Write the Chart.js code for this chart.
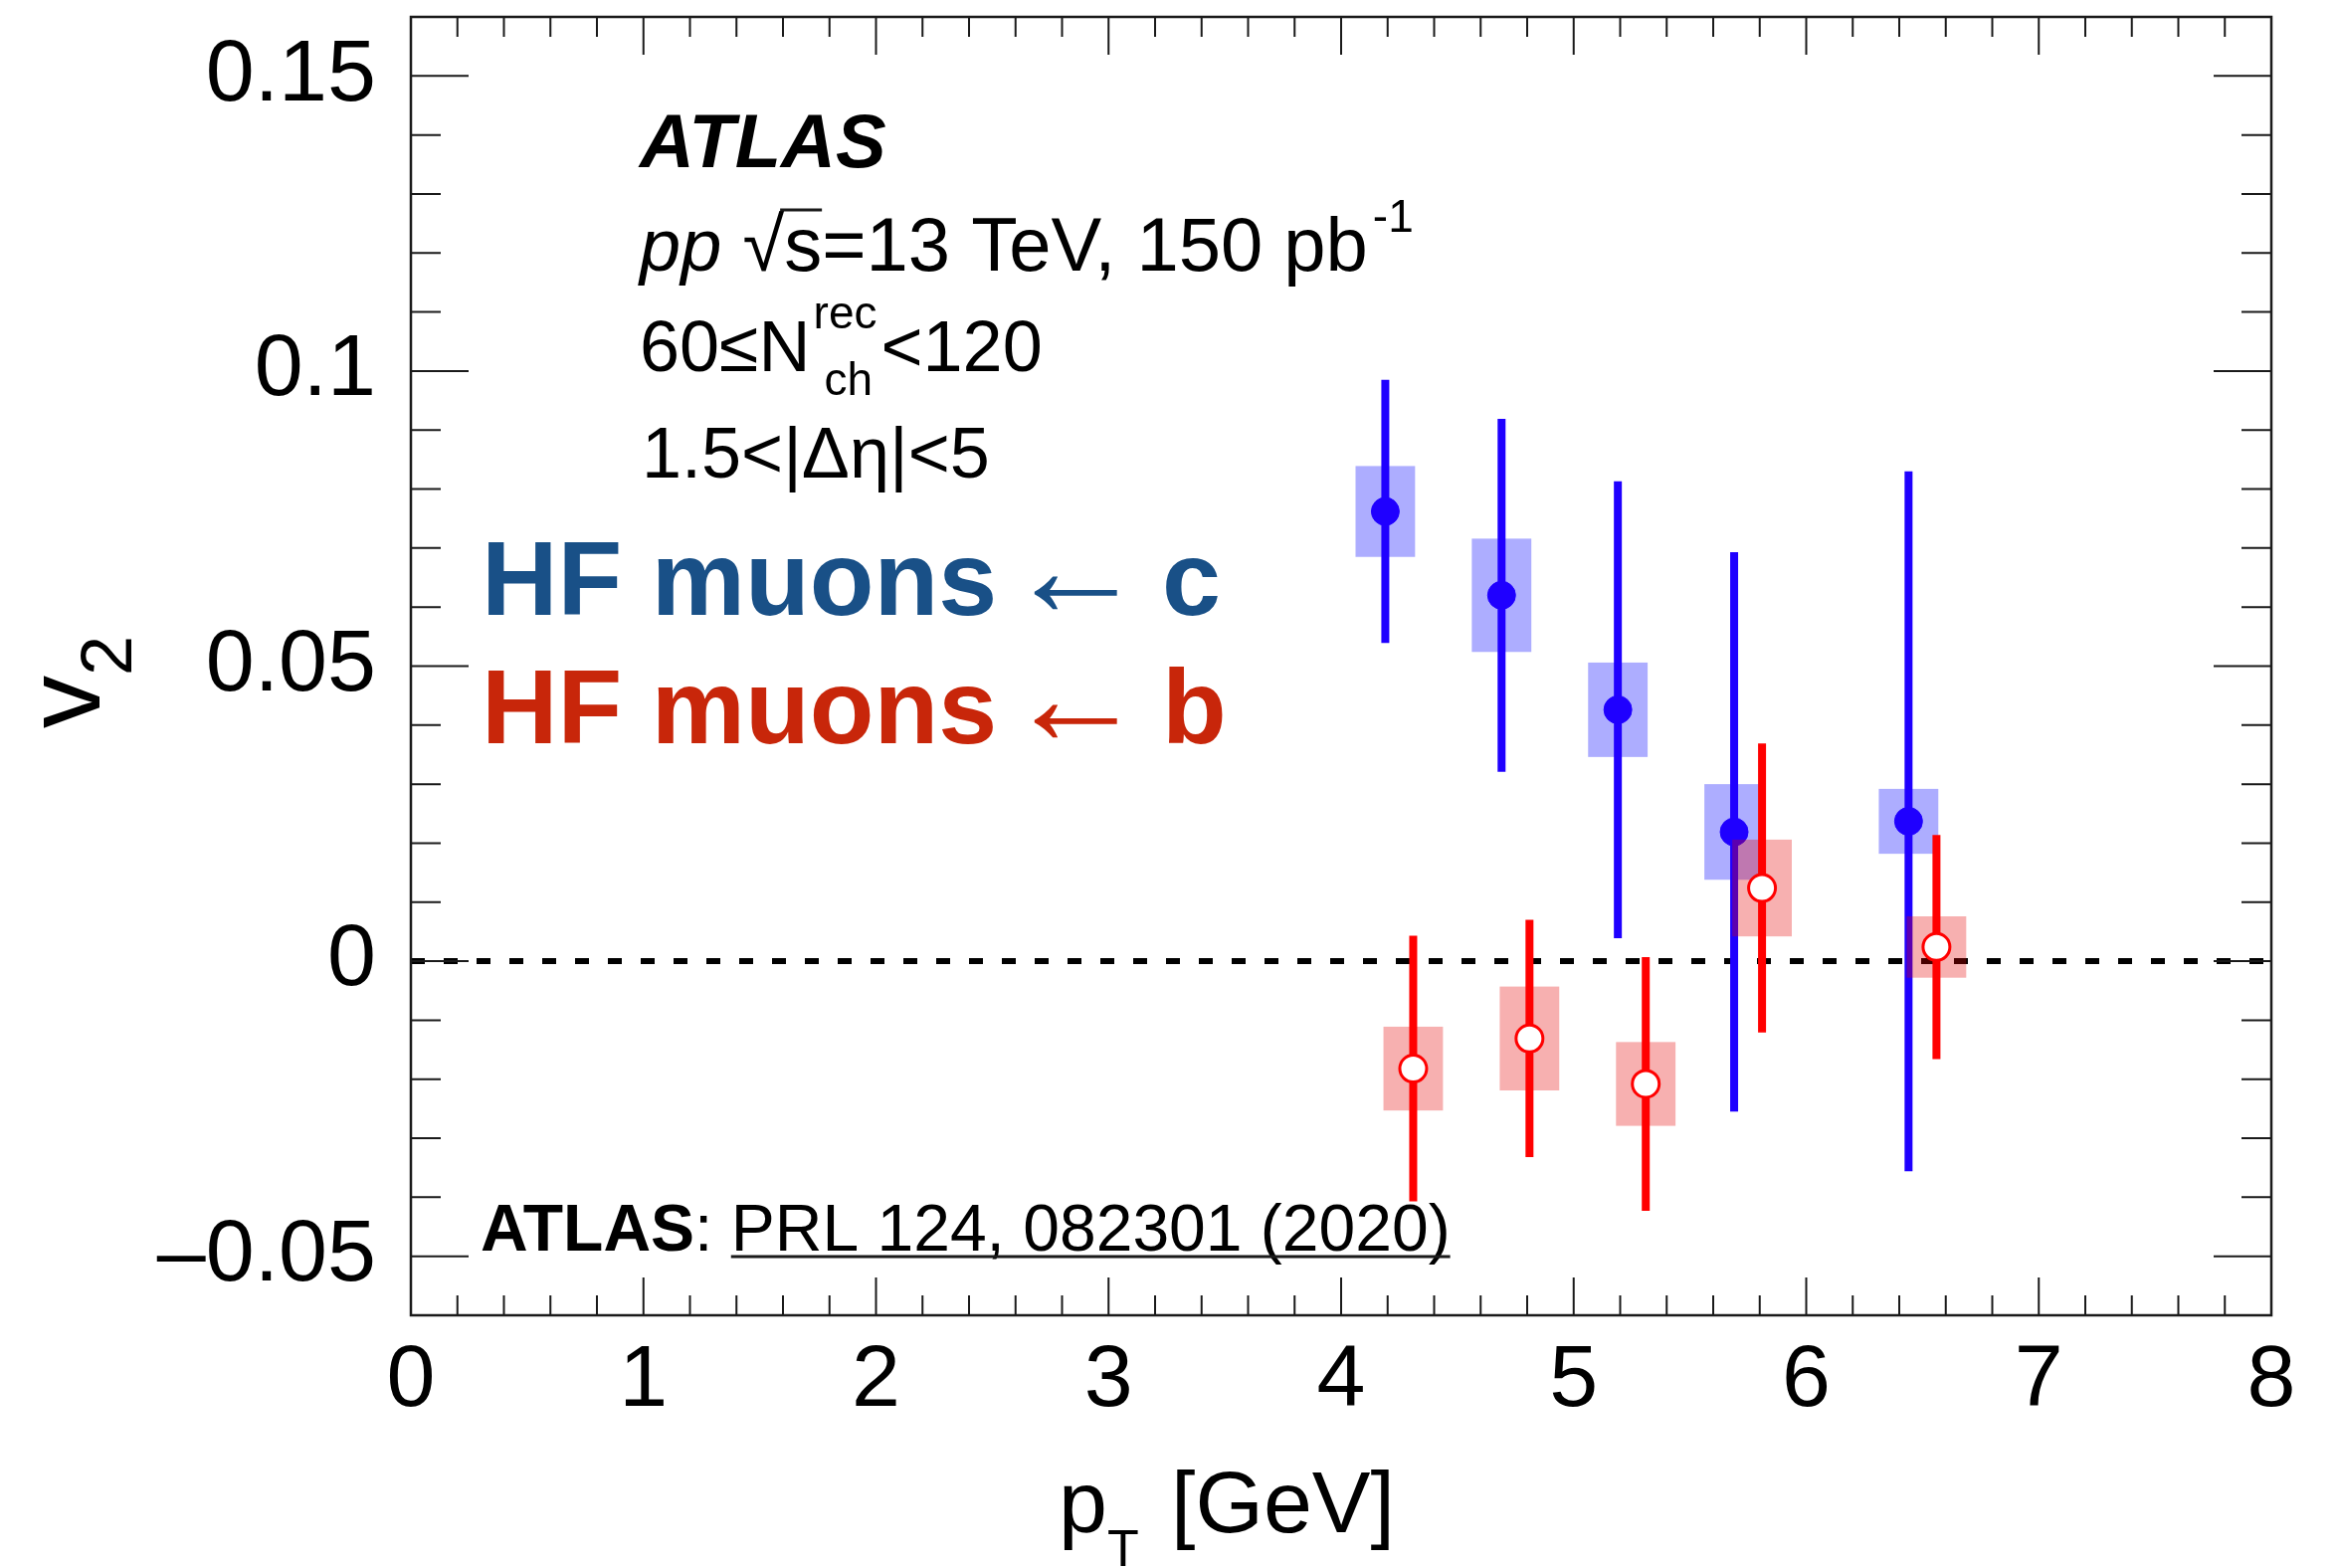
<!DOCTYPE html>
<html>
<head>
<meta charset="utf-8">
<title>HF muon v2</title>
<script src="https://cdn.jsdelivr.net/npm/chart.js@4.4.0/dist/chart.umd.min.js"></script>
<style>
  html, body { margin: 0; padding: 0; background: #fff; }
  #wrap { width: 2350px; height: 1576px; }
</style>
</head>
<body>
<div id="wrap"><canvas id="v2Chart" width="2350" height="1576"></canvas></div>
<script>
// muons from charm (c) and bottom (b) decays
const ptC   = [4.19, 4.69, 5.19, 5.69, 6.44];
const v2C   = [0.0762, 0.0620, 0.0426, 0.0219, 0.0237];
const statC = [0.0223, 0.0299, 0.0387, 0.0474, 0.0593];
const sysC  = [0.0077, 0.0096, 0.0080, 0.0081, 0.0055];

const ptB   = [4.31, 4.81, 5.31, 5.81, 6.56];
const v2B   = [-0.0182, -0.0131, -0.0208, 0.0124, 0.0024];
const statB = [0.0225, 0.0201, 0.0215, 0.0245, 0.0190];
const sysB  = [0.0071, 0.0088, 0.0071, 0.0082, 0.0052];

// half width of the systematic boxes, GeV
const sysHalfWidth = 0.128;

const xTicks = [0, 1, 2, 3, 4, 5, 6, 7, 8];
const yTicks = [-0.05, 0, 0.05, 0.1, 0.15];
const yTickLabels = ['\u20130.05', '0', '0.05', '0.1', '0.15'];

const FONT = "'Liberation Sans', Arial, Helvetica, sans-serif";

function toPoints(xs, ys) {
  return xs.map((x, i) => ({ x: x, y: ys[i] }));
}

// boxes (sys) and bars (stat) go under each series' markers
const errorPlugin = {
  id: 'errorBoxes',
  beforeDatasetsDraw(chart) {
    const { ctx, scales: { x, y } } = chart;
    ctx.save();
    ctx.strokeStyle = '#000';
    ctx.lineWidth = 6;
    ctx.setLineDash([14, 19]);
    ctx.beginPath();
    ctx.moveTo(x.getPixelForValue(0), y.getPixelForValue(0));
    ctx.lineTo(x.getPixelForValue(8), y.getPixelForValue(0));
    ctx.stroke();
    ctx.restore();
  },
  beforeDatasetDraw(chart, args) {
    const ds = chart.data.datasets[args.index];
    const { ctx, chartArea: a, scales: { x, y } } = chart;
    ctx.save();
    ctx.beginPath();
    ctx.rect(a.left, a.top, a.right - a.left, a.bottom - a.top);
    ctx.clip();
    ds.data.forEach((p, i) => {
      const x0 = x.getPixelForValue(p.x - sysHalfWidth);
      const x1 = x.getPixelForValue(p.x + sysHalfWidth);
      const yt = y.getPixelForValue(p.y + ds.sysErr[i]);
      const yb = y.getPixelForValue(p.y - ds.sysErr[i]);
      ctx.fillStyle = ds.boxColor;
      ctx.fillRect(x0, yt, x1 - x0, yb - yt);
    });
    ds.data.forEach((p, i) => {
      const px = x.getPixelForValue(p.x);
      ctx.strokeStyle = ds.barColor;
      ctx.lineWidth = 8;
      ctx.beginPath();
      ctx.moveTo(px, y.getPixelForValue(p.y + ds.statErr[i]));
      ctx.lineTo(px, y.getPixelForValue(p.y - ds.statErr[i]));
      ctx.stroke();
    });
    ctx.restore();
  }
};

// draws a row of text pieces, each with its own font and vertical shift
function drawRuns(ctx, x, y, runs) {
  runs.forEach(r => {
    ctx.font = r.font;
    if (r.x !== undefined) x = r.x;
    ctx.fillText(r.t, x, y + (r.dy || 0));
    x += ctx.measureText(r.t).width + (r.gap || 0);
  });
  return x;
}

// ROOT style frame, inward ticks on all sides, axis titles and labels
const framePlugin = {
  id: 'rootFrame',
  afterDraw(chart) {
    const { ctx, chartArea: a, scales: { x, y } } = chart;
    ctx.save();
    ctx.strokeStyle = '#1a1a1a';
    ctx.lineWidth = 2;
    ctx.beginPath();
    for (let i = 0; i <= 40; i++) {
      const px = x.getPixelForValue(i / 5);
      const len = i % 5 === 0 ? 38 : 20;
      ctx.moveTo(px, a.bottom); ctx.lineTo(px, a.bottom - len);
      ctx.moveTo(px, a.top); ctx.lineTo(px, a.top + len);
    }
    for (let i = -6; i <= 16; i++) {
      const py = y.getPixelForValue(i / 100);
      const len = i % 5 === 0 ? 58 : 30;
      ctx.moveTo(a.left, py); ctx.lineTo(a.left + len, py);
      ctx.moveTo(a.right, py); ctx.lineTo(a.right - len, py);
    }
    ctx.stroke();
    ctx.lineWidth = 2.5;
    ctx.strokeRect(a.left, a.top, a.right - a.left, a.bottom - a.top);

    ctx.fillStyle = '#000';
    ctx.textAlign = 'left';
    ctx.textBaseline = 'alphabetic';

    // x axis title
    drawRuns(ctx, 1064, 1540, [
      { t: 'p', font: '88px ' + FONT },
      { t: 'T', font: '52px ' + FONT, dy: 34 },
      { t: '[GeV]', font: '88px ' + FONT, x: 1177 }
    ]);

    // y axis title, rotated
    ctx.save();
    ctx.translate(100, 732);
    ctx.rotate(-Math.PI / 2);
    ctx.font = '106px ' + FONT;
    ctx.fillText('v', 0, 0);
    const vw = ctx.measureText('v').width;
    ctx.font = '72px ' + FONT;
    ctx.fillText('2', vw, 32);
    ctx.restore();

    // experiment label
    ctx.font = 'italic bold 76px ' + FONT;
    ctx.fillText('ATLAS', 643, 168);

    const f = '76px ' + FONT;
    const fs = '46px ' + FONT;
    let cx = drawRuns(ctx, 643, 272, [
      { t: 'pp', font: 'italic 74px ' + FONT },
      { t: ' \u221A', font: f }
    ]);
    ctx.font = f;
    const sw = ctx.measureText('s').width;
    ctx.fillText('s', cx, 272);
    ctx.lineWidth = 3;
    ctx.beginPath();
    ctx.moveTo(cx - 4, 211);
    ctx.lineTo(cx + sw, 211);
    ctx.stroke();
    cx = drawRuns(ctx, cx + sw, 272, [
      { t: '=13 TeV, 150 pb', font: f, gap: 5 },
      { t: '-1', font: fs, dy: -39 }
    ]);

    ctx.font = '72px ' + FONT;
    ctx.fillText('60\u2264N', 643, 373);
    const nEnd = 643 + ctx.measureText('60\u2264N').width;
    ctx.font = '46px ' + FONT;
    ctx.fillText('rec', nEnd + 3, 330);
    ctx.fillText('ch', nEnd + 14, 397);
    const recEnd = nEnd + 3 + ctx.measureText('rec').width;
    ctx.font = '72px ' + FONT;
    ctx.fillText('<120', recEnd + 4, 373);

    ctx.fillText('1.5<|\u0394\u03B7|<5', 645, 480);

    // series labels
    const big = 'bold 106px ' + FONT;
    [['c', '#195087', 618, 580], ['b', '#c8260a', 747, 709]].forEach(([q, col, base, mid]) => {
      ctx.fillStyle = col;
      ctx.font = big;
      ctx.textAlign = 'left';
      ctx.textBaseline = 'alphabetic';
      ctx.fillText('HF muons', 484, base);
      ctx.fillText(q, 1168, base);
      ctx.textAlign = 'center';
      ctx.textBaseline = 'middle';
      ctx.font = 'bold 140px ' + FONT;
      ctx.fillText('\u2190', 1081, mid);
    });

    // reference line
    ctx.fillStyle = '#000';
    ctx.textAlign = 'left';
    ctx.textBaseline = 'alphabetic';
    ctx.font = 'bold 66px ' + FONT;
    ctx.fillText('ATLAS', 483, 1257);
    let rx = 483 + ctx.measureText('ATLAS').width;
    ctx.font = '66px ' + FONT;
    ctx.fillText(':', rx, 1257);
    rx += ctx.measureText(': ').width;
    const ref = 'PRL 124, 082301 (2020)';
    ctx.fillText(ref, rx, 1257);
    ctx.lineWidth = 3;
    ctx.beginPath();
    ctx.moveTo(rx, 1263);
    ctx.lineTo(rx + ctx.measureText(ref).width, 1263);
    ctx.stroke();

    ctx.restore();
  }
};

const tickFont = { family: FONT, size: 88 };

new Chart(document.getElementById('v2Chart'), {
  type: 'scatter',
  data: {
    datasets: [{
      label: 'HF muons \u2190 c',
      data: toPoints(ptC, v2C),
      statErr: statC,
      sysErr: sysC,
      barColor: '#1f00ff',
      boxColor: 'rgba(0, 0, 255, 0.32)',
      pointRadius: 14,
      pointBackgroundColor: '#1f00ff',
      pointBorderColor: '#1f00ff',
      pointBorderWidth: 1,
      order: 2
    }, {
      label: 'HF muons \u2190 b',
      data: toPoints(ptB, v2B),
      statErr: statB,
      sysErr: sysB,
      barColor: '#ff0000',
      boxColor: 'rgba(229, 0, 0, 0.31)',
      pointRadius: 13.5,
      pointBackgroundColor: '#ffffff',
      pointBorderColor: '#ff0000',
      pointBorderWidth: 3,
      order: 1
    }]
  },
  options: {
    responsive: false,
    animation: false,
    devicePixelRatio: 1,
    events: [],
    layout: { padding: { top: 17, right: 67, left: 0, bottom: 0 } },
    plugins: { legend: { display: false }, tooltip: { enabled: false } },
    scales: {
      x: {
        type: 'linear',
        min: 0,
        max: 8,
        afterBuildTicks: s => { s.ticks = xTicks.map(v => ({ value: v })); },
        afterFit: s => { s.height = 254; s.paddingLeft = 0; s.paddingRight = 0; },
        grid: { display: false, drawTicks: false },
        border: { display: false },
        ticks: { font: tickFont, color: '#000', padding: 14, maxRotation: 0, autoSkip: false }
      },
      y: {
        type: 'linear',
        min: -0.06,
        max: 0.16,
        afterBuildTicks: s => { s.ticks = yTicks.map(v => ({ value: v })); },
        afterFit: s => { s.width = 413; s.paddingTop = 0; s.paddingBottom = 0; },
        grid: { display: false, drawTicks: false },
        border: { display: false },
        ticks: {
          font: tickFont,
          color: '#000',
          padding: 35,
          autoSkip: false,
          callback: v => yTickLabels[yTicks.indexOf(v)]
        }
      }
    }
  },
  plugins: [errorPlugin, framePlugin]
});
</script>
</body>
</html>
